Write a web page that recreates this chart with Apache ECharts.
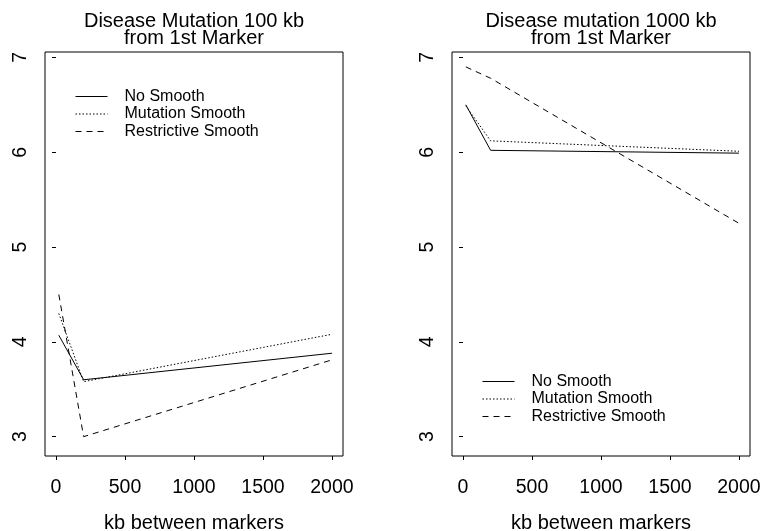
<!DOCTYPE html>
<html>
<head>
<meta charset="utf-8">
<script src="https://cdn.jsdelivr.net/npm/echarts@6/dist/echarts.min.js"></script>
<style>
  html, body { margin: 0; padding: 0; background: #fff; }
  #chart { width: 763px; height: 531px; }
</style>
</head>
<body>
<div id="chart"></div>
<script>
// Marker spacing (kb) at which each smoothing method was evaluated
const markerKb = [20, 200, 2000];

// Disease mutation 100 kb from the first marker
const noSmooth100 = [4.07, 3.60, 3.88];
const mutationSmooth100 = [4.30, 3.58, 4.08];
const restrictiveSmooth100 = [4.50, 3.00, 3.81];

// Disease mutation 1000 kb from the first marker
const noSmooth1000 = [6.50, 6.02, 5.99];
const mutationSmooth1000 = [6.49, 6.12, 6.01];
const restrictiveSmooth1000 = [6.90, 6.78, 5.25];

const xTicks = [0, 500, 1000, 1500, 2000];
const yTicks = [3, 4, 5, 6, 7];

const methodNames = ['No Smooth', 'Mutation Smooth', 'Restrictive Smooth'];
const panelTitles = ['Disease Mutation 100 kb\nfrom 1st Marker', 'Disease mutation 1000 kb\nfrom 1st Marker'];

const FONT = '"Liberation Sans", Arial, Helvetica, sans-serif';
const lineTypes = ['solid', [1.5, 2], [6, 5]];

const toPairs = ys => markerKb.map((x, i) => [x, ys[i]]);

const panels = [
  { values: [noSmooth100, mutationSmooth100, restrictiveSmooth100], left: 45, titleX: 194, legend: { left: 75, top: 88.5 } },
  { values: [noSmooth1000, mutationSmooth1000, restrictiveSmooth1000], left: 452, titleX: 601, legend: { left: 482, top: 373.5 } }
];

const grid = panels.map(p => ({
  left: p.left, top: 52, width: 298, height: 404,
  outerBoundsMode: 'none', containLabel: false,
  show: true, borderColor: '#000', borderWidth: 1, backgroundColor: 'transparent'
}));

const xAxis = panels.map((p, i) => ({
  type: 'value', gridIndex: i, min: -80, max: 2080,
  axisLine: { show: false },
  splitLine: { show: false },
  axisTick: { show: true, inside: false, length: 4, customValues: xTicks, lineStyle: { color: '#000' } },
  axisLabel: { customValues: xTicks, formatter: v => String(v), margin: 22, color: '#000', fontSize: 19.5, fontFamily: FONT },
  name: 'kb between markers', nameLocation: 'middle', nameGap: 57,
  nameTextStyle: { color: '#000', fontSize: 20, fontFamily: FONT }
}));

const yAxis = panels.map((p, i) => ({
  type: 'value', gridIndex: i, min: 2.796, max: 7.057,
  axisLine: { show: false },
  splitLine: { show: false },
  axisTick: { show: true, inside: false, length: 4, customValues: yTicks, lineStyle: { color: '#000' } },
  axisLabel: { customValues: yTicks, formatter: v => String(v), rotate: 90, margin: 14, color: '#000', fontSize: 19.5, fontFamily: FONT }
}));

const series = [];
panels.forEach((p, i) => {
  p.values.forEach((vals, k) => {
    series.push({
      type: 'line', name: methodNames[k], xAxisIndex: i, yAxisIndex: i,
      data: toPairs(vals), symbol: 'none', silent: true, animation: false,
      itemStyle: { color: '#000' },
      lineStyle: { color: '#000', width: 1, type: lineTypes[k] }
    });
  });
});

const title = panels.map((p, i) => ({
  text: panelTitles[i], left: p.titleX, top: 13, textAlign: 'center', padding: 0,
  textStyle: { color: '#000', fontWeight: 'normal', fontSize: 20, lineHeight: 17, fontFamily: FONT }
}));

const legend = panels.map(p => ({
  orient: 'vertical', left: p.legend.left, top: p.legend.top, padding: 0,
  itemWidth: 32, itemHeight: 14, itemGap: 1.5, selectedMode: false,
  itemStyle: { opacity: 0 },
  lineStyle: { width: 1 },
  data: methodNames.map(n => ({ name: n })),
  textStyle: { color: '#000', fontSize: 16, lineHeight: 14, fontFamily: FONT, padding: [0, 0, 0, 12] }
}));

const chart = echarts.init(document.getElementById('chart'), null, { renderer: 'canvas' });
chart.setOption({
  animation: false,
  backgroundColor: '#fff',
  title, legend, grid, xAxis, yAxis, series
});
</script>
</body>
</html>
